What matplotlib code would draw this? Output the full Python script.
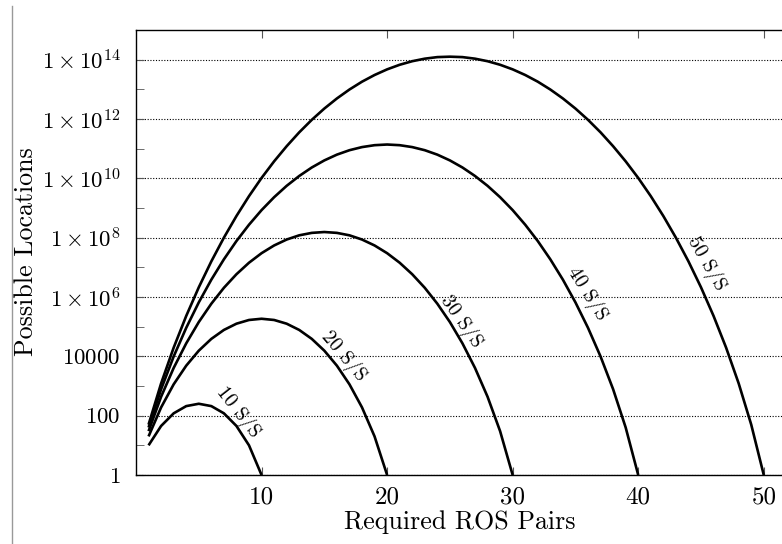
import matplotlib
matplotlib.use("Agg")
import matplotlib.pyplot as plt
from matplotlib.lines import Line2D
from matplotlib.ticker import FixedLocator, FixedFormatter, NullFormatter

plt.rcParams['font.family'] = 'serif'
plt.rcParams['font.serif'] = ['cmr10']
plt.rcParams['mathtext.fontset'] = 'cm'
plt.rcParams['axes.unicode_minus'] = False

# Possible locations vs. required ROS pairs, for each number of S/S
x10 = list(range(1, 11))
y10 = [10, 45, 120, 210, 252, 210, 120, 45, 10, 1]

x20 = list(range(1, 21))
y20 = [20, 190, 1140, 4845, 15504, 38760, 77520, 125970, 167960, 184756,
       167960, 125970, 77520, 38760, 15504, 4845, 1140, 190, 20, 1]

x30 = list(range(1, 31))
y30 = [30, 435, 4.06e3, 2.74e4, 1.43e5, 5.94e5, 2.04e6, 5.85e6, 1.43e7, 3.00e7,
       5.46e7, 8.65e7, 1.20e8, 1.45e8, 1.55e8, 1.45e8, 1.20e8, 8.65e7, 5.46e7, 3.00e7,
       1.43e7, 5.85e6, 2.04e6, 5.94e5, 1.43e5, 2.74e4, 4.06e3, 435, 30, 1]

x40 = list(range(1, 41))
y40 = [40, 780, 9880, 9.14e4, 6.58e5, 3.84e6, 1.86e7, 7.69e7, 2.73e8, 8.48e8,
       2.31e9, 5.59e9, 1.20e10, 2.32e10, 4.02e10, 6.29e10, 8.87e10, 1.13e11, 1.31e11, 1.38e11,
       1.31e11, 1.13e11, 8.87e10, 6.29e10, 4.02e10, 2.32e10, 1.20e10, 5.59e9, 2.31e9, 8.48e8,
       2.73e8, 7.69e7, 1.86e7, 3.84e6, 6.58e5, 9.14e4, 9880, 780, 40, 1]

x50 = list(range(1, 51))
y50 = [50, 1225, 1.96e4, 2.30e5, 2.12e6, 1.59e7, 9.99e7, 5.37e8, 2.51e9, 1.03e10,
       3.74e10, 1.21e11, 3.55e11, 9.38e11, 2.25e12, 4.92e12, 9.85e12, 1.81e13, 3.04e13, 4.71e13,
       6.73e13, 8.87e13, 1.08e14, 1.22e14, 1.26e14, 1.22e14, 1.08e14, 8.87e13, 6.73e13, 4.71e13,
       3.04e13, 1.81e13, 9.85e12, 4.92e12, 2.25e12, 9.38e11, 3.55e11, 1.21e11, 3.74e10, 1.03e10,
       2.51e9, 5.37e8, 9.99e7, 1.59e7, 2.12e6, 2.30e5, 1.96e4, 1225, 50, 1]

series = [(x10, y10), (x20, y20), (x30, y30), (x40, y40), (x50, y50)]
labels = ["10 S/S", "20 S/S", "30 S/S", "40 S/S", "50 S/S"]
label_xy = [(8.1, 1.34e2), (16.5, 1.0e4), (25.9, 1.45e5), (35.9, 1.26e6), (45.4, 1.3e7)]
label_rot = [-52, -50, -55, -58, -60]

xticks = [10, 20, 30, 40, 50]
yticks = [1, 1e2, 1e4, 1e6, 1e8, 1e10, 1e12, 1e14]
ytick_labels = [r'$1$', r'$100$', r'$10000$', r'$1\times10^{6}$', r'$1\times10^{8}$',
                r'$1\times10^{10}$', r'$1\times10^{12}$', r'$1\times10^{14}$']
yminor = [1e1, 1e3, 1e5, 1e7, 1e9, 1e11, 1e13]

fig = plt.figure(figsize=(7.82, 5.44), dpi=100)
ax = fig.add_axes([136/782, 69/544, 678/782, 445/544])

for (xs, ys) in series:
    ax.plot(xs, ys, color='black', lw=1.9, solid_capstyle='butt', zorder=3)

for (lx, ly), rot, txt in zip(label_xy, label_rot, labels):
    ax.text(lx, ly, txt, rotation=rot, rotation_mode='anchor', ha='center', va='center',
            fontsize=14.5, zorder=4)

ax.set_yscale('log')
ax.set_xlim(0, 54)
ax.set_ylim(1, 1e15)

ax.xaxis.set_major_locator(FixedLocator(xticks))
ax.yaxis.set_major_locator(FixedLocator(yticks))
ax.yaxis.set_major_formatter(FixedFormatter(ytick_labels))
ax.yaxis.set_minor_locator(FixedLocator([]) if False else FixedLocator(yminor))
ax.yaxis.set_minor_formatter(NullFormatter())
ax.xaxis.set_minor_locator(FixedLocator([]))

ax.tick_params(axis='both', which='both', direction='in', top=True, right=False,
               color='#555555')
ax.tick_params(axis='y', which='major', length=6, pad=11, labelsize=16.5)
ax.tick_params(axis='y', which='minor', length=6)
ax.tick_params(axis='x', which='major', length=6, pad=8, labelsize=18)

ax.grid(True, axis='y', which='major', linestyle=(0, (1, 1.5)), color='black', lw=0.8)
for s in ax.spines.values():
    s.set_linewidth(1.0)
ax.spines['right'].set_visible(False)

fig.text(460/782, 1 - 529/544, 'Required ROS Pairs', fontsize=18.7, ha='center', va='baseline')
fig.text(26/782, 1 - 252/544, 'Possible Locations', fontsize=18.7, ha='center', va='center',
         rotation=90)

fig.add_artist(Line2D([12/782, 12/782], [0, 1 - 6/544], color='#999999', lw=1.0))

fig.savefig('out.png', dpi=100)
